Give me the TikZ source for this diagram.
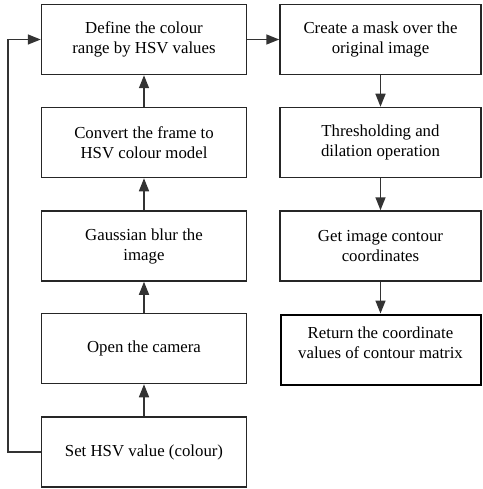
\documentclass[tikz,border=0pt]{standalone}
\usepackage{fontspec}
\setmainfont{Liberation Serif}
\usetikzlibrary{arrows.meta}
\begin{document}
\begin{tikzpicture}[x=1pt,y=-1pt,
  stepbox/.style={draw=black!85, line width=1.5pt, minimum width=205pt, minimum height=70pt,
    align=center, font=\fontsize{16.8}{20}\selectfont, inner sep=0pt},
  endbox/.style={stepbox, draw=black, line width=2pt},
  flow/.style={draw=black!80, line width=1.5pt, -{Triangle[length=13pt,width=10pt]}}]
\useasboundingbox (0,0) rectangle (482,489);
% left column (bottom to top)
\node[stepbox] (define) at (144,39.5) {Define the colour\\range by HSV values};
\node[stepbox] (convert) at (144,142.5) {Convert the frame to\\HSV colour model};
\node[stepbox] (blur) at (144,246) {Gaussian blur the\\image};
\node[stepbox] (camera) at (144,348.5) {Open the camera};
\node[stepbox] (sethsv) at (144,452) {Set HSV value (colour)};
% right column (top to bottom)
\node[stepbox, minimum width=201pt] (mask) at (380.5,39.5) {Create a mask over the\\original image};
\node[stepbox, minimum width=201pt] (thresh) at (380.5,142.5) {Thresholding and\\dilation operation};
\node[stepbox, minimum width=201pt] (contour) at (380.5,246) {Get image contour\\coordinates};
\node[endbox, minimum width=200pt] (ret) at (380.5,349.5) {};
\node[align=center, font=\fontsize{16.8}{20}\selectfont] (rettext) at (380.5,343) {Return the coordinate\\values of contour matrix};
% connectors
\draw[flow] (sethsv) -- (camera);
\draw[flow] (camera) -- (blur);
\draw[flow] (blur) -- (convert);
\draw[flow] (convert) -- (define);
\draw[flow] (define) -- (mask);
\draw[flow] (mask) -- (thresh);
\draw[flow] (thresh) -- (contour);
\draw[flow] (contour) -- (ret);
\coordinate (loopb) at (8,452);
\coordinate (loopt) at (8,39.5);
\draw[flow] (sethsv.west) -- (loopb) -- (loopt) -- (define.west);
\end{tikzpicture}
\end{document}
